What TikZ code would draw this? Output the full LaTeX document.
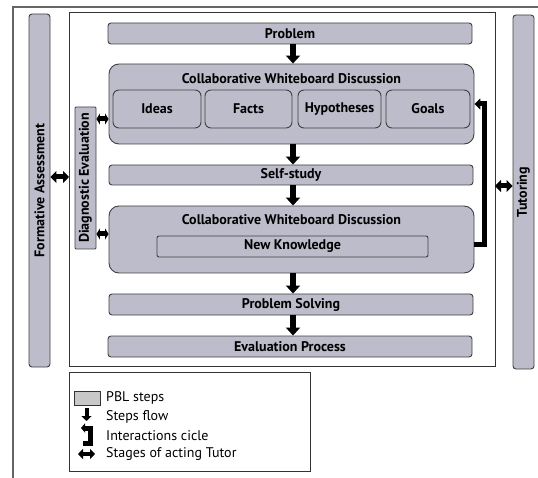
\documentclass[tikz,border=0pt]{standalone}
\usepackage{fontspec}
\setmainfont{PT Sans}
\usetikzlibrary{arrows.meta}
\usetikzlibrary{positioning}
\definecolor{stepfill}{HTML}{BDBCCB}
\definecolor{legfill}{HTML}{C8C8C8}

\begin{document}
\begin{tikzpicture}[x=1pt,y=-1pt,
  bar/.style={draw=black!75,fill=stepfill,line width=0.9pt,rounded corners=3pt,
    minimum height=21pt,inner sep=0pt,font=\bfseries\fontsize{14}{16}\selectfont},
  widebar/.style={bar,minimum width=364pt},
  vbar/.style={bar,minimum width=21pt,rotate=90},
  board/.style={draw=black!75,fill=stepfill,line width=0.9pt,rounded corners=10pt,
    minimum width=365pt,inner sep=0pt},
  title/.style={inner sep=0pt,font=\bfseries\fontsize{14}{16}\selectfont},
  part/.style={bar,rounded corners=6pt,minimum height=38pt},
  flow/.style={line width=6pt,-{Triangle[length=8pt,width=14pt]}},
  tutor/.style={line width=5pt,{Triangle[length=6pt,width=12pt]}-{Triangle[length=6pt,width=12pt]}},
  shorttutor/.style={line width=5pt,{Triangle[length=3.5pt,width=11pt]}-{Triangle[length=3.5pt,width=11pt]}},
  cycle/.style={line width=5pt,-{Triangle[length=6pt,width=11pt]}},
  legtext/.style={anchor=west,inner sep=0pt,font=\fontsize{14}{16}\selectfont}]
\useasboundingbox (0,0) rectangle (538,478);
\draw [black!60,line width=1.5pt] (13,478) -- (13,7) -- (538,7);
\draw [black!80,line width=1pt] (69,13) rectangle (495,366);

\node [widebar] (problem) at (290,33.5) {Problem};
\node [board,minimum height=80pt] (cwd1) at (291.5,104) {};
\node [title,below=9.5pt,at=(cwd1.north)] {Collaborative Whiteboard Discussion};
\node [part,minimum width=88pt] (ideas) at (157,109) {Ideas};
\node [part,minimum width=87pt] (facts) at (248.5,109) {Facts};
\node [part,minimum width=83pt] (hyp) at (339.5,109) {Hypotheses};
\node [part,minimum width=84pt] (goals) at (428,109) {Goals};
\node [widebar,minimum height=20pt] (study) at (291,175) {Self-study};
\node [board,minimum height=67pt] (cwd2) at (291.5,239.5) {};
\node [title,below=8.5pt,at=(cwd2.north)] {Collaborative Whiteboard Discussion};
\node [bar,minimum width=271pt,rounded corners=2pt] (newk) at (292.5,246.5) {New Knowledge};
\node [widebar] (solve) at (291,304.5) {Problem Solving};
\node [widebar] (eval) at (290,346.5) {Evaluation Process};

\node [vbar,minimum width=353pt] (formative) at (39.5,190.5) {Formative Assessment};
\node [vbar,minimum width=142pt,rounded corners=1pt] (diag) at (85.5,178) {Diagnostic Evaluation};
\node [vbar,minimum width=354pt] (tutoring) at (523.5,192) {Tutoring};

\draw [flow] (problem.south -| 293,0) -- (cwd1.north -| 293,0);
\draw [flow] (cwd1.south -| 293,0) -- (study.north -| 293,0);
\draw [flow] (study.south -| 293,0) -- (cwd2.north -| 293,0);
\draw [flow] (cwd2.south -| 293,0) -- (solve.north -| 293,0);
\draw [flow] (solve.south -| 293,0) -- (eval.north -| 293,0);

\draw [tutor] (formative.south |- 0,177) -- (69,177);
\draw [shorttutor] (diag.south |- 0,119) -- (cwd1.west |- 0,119);
\draw [shorttutor] (diag.south |- 0,234) -- (cwd2.west |- 0,234);
\draw [tutor] (495,186) -- (tutoring.north |- 0,186);
\draw [cycle] (cwd2.east |- 0,245) -- (484,245) -- (484,104) -- (cwd1.east |- 0,104);

% legend
\draw [black!80,line width=1pt] (69,372) rectangle (310,471);
\node [draw=black!80,fill=legfill,minimum width=26pt,minimum height=14pt,inner sep=0pt] (legbox) at (87.5,398) {};
\node [legtext] at (106,398) {PBL steps};
\draw [line width=4pt,-{Triangle[length=5pt,width=10pt]}] (86.5,408) -- (86.5,421);
\node [legtext] at (106,417) {Steps flow};
\draw [line width=5pt,-{Triangle[length=4pt,width=9pt]}] (83,443) -- (90,443) -- (90,428) -- (81,428);
\node [legtext] at (106,436) {Interactions cicle};
\draw [line width=4pt,{Triangle[length=5pt,width=10pt]}-{Triangle[length=5pt,width=10pt]}] (78,454) -- (95,454);
\node [legtext] at (106,454) {Stages of acting Tutor};
\end{tikzpicture}
\end{document}
